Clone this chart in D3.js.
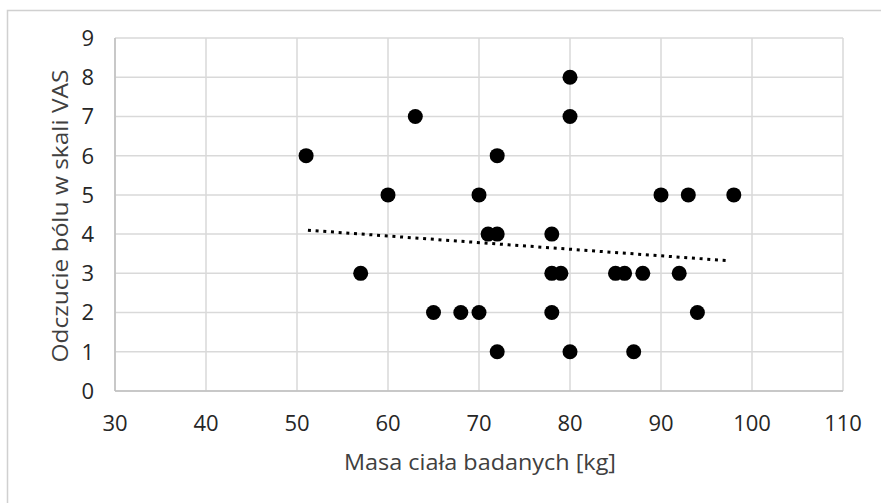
<!DOCTYPE html>
<html>
<head>
<meta charset="utf-8">
<script src="https://cdn.jsdelivr.net/npm/d3@7"></script>
<style>
body { margin: 0; background: #fff; }
text { font-family: "Open Sans", "Noto Sans", sans-serif; }
</style>
</head>
<body>
<script>
// masa ciała [kg] i odczucie bólu VAS
const masa = [51, 57, 60, 63, 65, 68, 70, 70, 71, 72, 72, 72, 78, 78, 79, 78, 80, 80, 80, 85, 86, 88, 87, 90, 92, 93, 94, 98];
const vas  = [6, 3, 5, 7, 2, 2, 2, 5, 4, 4, 6, 1, 4, 3, 3, 2, 8, 7, 1, 3, 3, 3, 1, 5, 3, 5, 2, 5];
// trend line ends as shown (Excel linear trendline)
const trendX = [51.2, 97.5];
const trendY = [4.10, 3.32];
const xTicks = [30, 40, 50, 60, 70, 80, 90, 100, 110];
const yTicks = [0, 1, 2, 3, 4, 5, 6, 7, 8, 9];

const width = 881, height = 503;
const plotL = 115, plotT = 38, plotR = 843, plotB = 391;

const svg = d3.select("body").append("svg")
    .attr("width", width)
    .attr("height", height);

// outer chart frame (cut off on the right and bottom)
svg.append("rect")
    .attr("x", 7.5).attr("y", 10.5)
    .attr("width", 900).attr("height", 600)
    .attr("fill", "#fff")
    .attr("stroke", "#d0d0d0")
    .attr("stroke-width", 1.5);

const x = d3.scaleLinear().domain([30, 110]).range([plotL, plotR]);
const y = d3.scaleLinear().domain([0, 9]).range([plotB, plotT]);

// grid
svg.append("g").selectAll("line")
    .data(xTicks)
    .enter().append("line")
    .attr("x1", d => x(d)).attr("x2", d => x(d))
    .attr("y1", plotT).attr("y2", plotB)
    .attr("stroke", "#d9d9d9").attr("stroke-width", 1.5);

svg.append("g").selectAll("line")
    .data(yTicks)
    .enter().append("line")
    .attr("x1", plotL).attr("x2", plotR)
    .attr("y1", d => y(d)).attr("y2", d => y(d))
    .attr("stroke", "#d9d9d9").attr("stroke-width", 1.5);

// axes lines
svg.append("line")
    .attr("x1", plotL).attr("x2", plotR).attr("y1", plotB).attr("y2", plotB)
    .attr("stroke", "#bfbfbf").attr("stroke-width", 1.5);
svg.append("line")
    .attr("x1", plotL).attr("x2", plotL).attr("y1", plotT).attr("y2", plotB)
    .attr("stroke", "#bfbfbf").attr("stroke-width", 1.5);

// tick labels
svg.append("g").selectAll("text")
    .data(xTicks)
    .enter().append("text")
    .attr("x", d => x(d))
    .attr("y", 431)
    .attr("text-anchor", "middle")
    .attr("font-size", "22px")
    .attr("fill", "#262626")
    .text(d => d);

svg.append("g").selectAll("text")
    .data(yTicks)
    .enter().append("text")
    .attr("x", 94)
    .attr("y", d => y(d))
    .attr("dy", "0.36em")
    .attr("text-anchor", "end")
    .attr("font-size", "22px")
    .attr("fill", "#262626")
    .text(d => d);

// axis titles
svg.append("text")
    .attr("x", 480).attr("y", 470)
    .attr("text-anchor", "middle")
    .attr("font-size", "22px")
    .attr("fill", "#404040")
    .attr("textLength", 272)
    .attr("lengthAdjust", "spacingAndGlyphs")
    .text("Masa ciała badanych [kg]");

svg.append("text")
    .attr("transform", "translate(68,216) rotate(-90)")
    .attr("text-anchor", "middle")
    .attr("font-size", "22px")
    .attr("fill", "#404040")
    .attr("textLength", 293)
    .attr("lengthAdjust", "spacingAndGlyphs")
    .text("Odczucie bólu w skali VAS");

// points
const pts = masa.map((m, i) => ({ m: m, v: vas[i] }));
svg.append("g").selectAll("circle")
    .data(pts)
    .enter().append("circle")
    .attr("cx", d => x(d.m))
    .attr("cy", d => y(d.v))
    .attr("r", 7.5)
    .attr("fill", "#000");

// trend line
const line = d3.line().x(d => x(d[0])).y(d => y(d[1]));
svg.append("path")
    .datum(trendX.map((t, i) => [t, trendY[i]]))
    .attr("d", line)
    .attr("fill", "none")
    .attr("stroke", "#000")
    .attr("stroke-width", 3)
    .attr("stroke-dasharray", "3,4.7");
</script>
</body>
</html>
